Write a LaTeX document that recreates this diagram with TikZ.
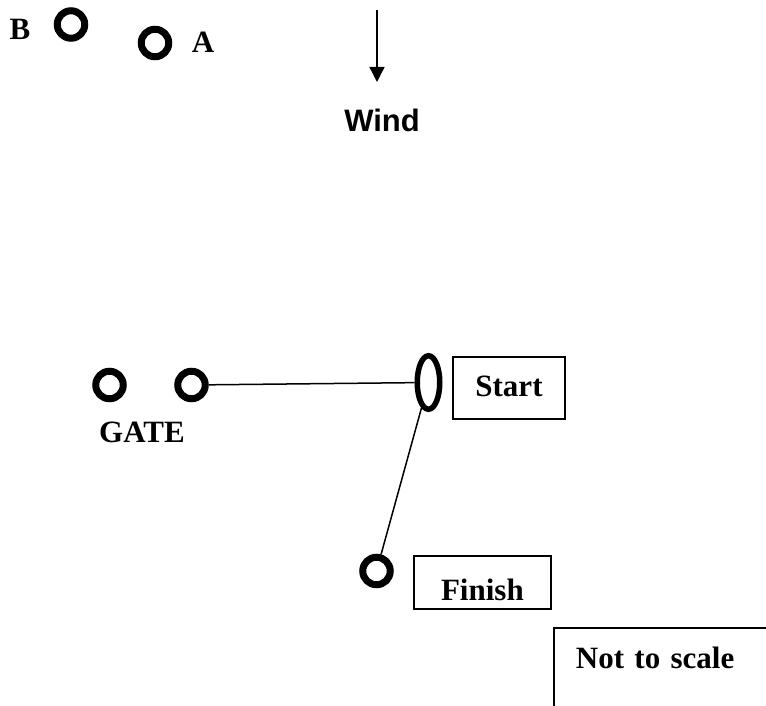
\documentclass[tikz,border=0pt]{standalone}
\usepackage{fontspec}
\setmainfont{Liberation Serif}
\newfontfamily\arialfont{Liberation Sans}
\usetikzlibrary{arrows.meta,shapes.geometric}
\tikzset{
  buoy/.style={circle,draw,line width=7pt,minimum size=27.5pt,inner sep=0pt},
  lbl/.style={font=\fontsize{31}{36}\selectfont\bfseries,inner sep=0pt,anchor=base},
  boxlbl/.style={draw,line width=1.8pt,font=\fontsize{31}{36}\selectfont\bfseries,inner sep=0pt},
  course/.style={line width=1.5pt}
}
\begin{document}
\begin{tikzpicture}[x=1pt,y=-1pt]
\useasboundingbox[fill=white] (0,0) rectangle (766,706);
\clip (0,0) rectangle (766,706);
% marks B and A
\node[lbl] (tB) at (20,40) {B};
\node[buoy] (mB) at (71,24.5) {};
\node[buoy] (mA) at (155,43) {};
\node[lbl] (tA) at (203,53) {A};
% wind
\coordinate (w0) at (377,10);
\coordinate (w1) at (377,82);
\draw[line width=1.4pt,-{Triangle[width=15pt,length=15pt]}] (w0) -- (w1);
\node[lbl,font=\arialfont\fontsize{31}{36}\selectfont\bfseries] (wind) at (382,132) {Wind};
% gate
\node[buoy] (g1) at (109.5,385) {};
\node[buoy] (g2) at (191.5,385) {};
\node[lbl] (gate) at (142,442) {GATE};
% start
\node[ellipse,draw,line width=5.5pt,minimum width=22.5pt,minimum height=53.5pt,inner sep=0pt] (st) at (428.5,382.5) {};
\node[boxlbl,minimum width=112pt,text height=39pt,text depth=23pt] (stbox) at (509,388) {Start};
\draw[course] (g2) -- (st);
% finish
\node[buoy] (fin) at (376.5,571) {};
\draw[course] (st) -- (fin);
\node[boxlbl,minimum width=137pt,text height=45pt,text depth=8pt,anchor=north west] (finbox) at (413,555) {Finish};
% not to scale
\node[boxlbl,anchor=north west,text width=200pt,inner xsep=22pt,text height=41pt,text depth=100pt] (nts) at (553,627) {Not to scale};
\end{tikzpicture}
\end{document}
